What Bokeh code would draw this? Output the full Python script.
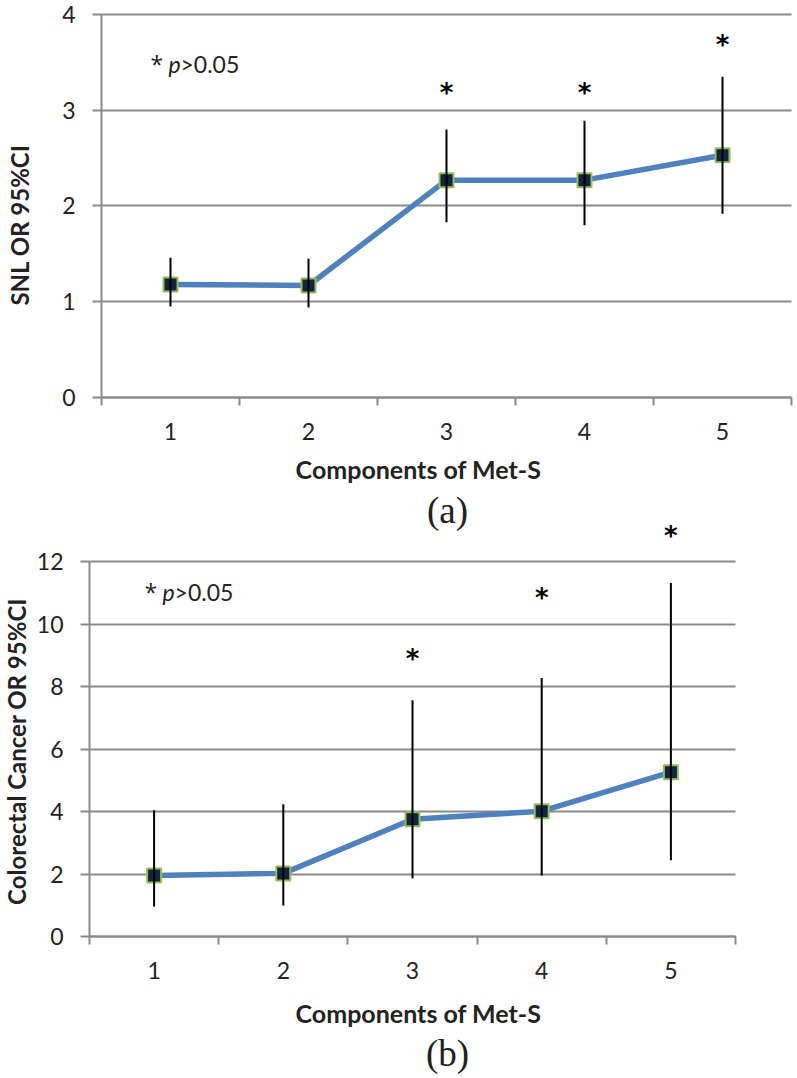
from bokeh.plotting import figure
from bokeh.layouts import column
from bokeh.models import ColumnDataSource, FixedTicker, Label, Range1d, Grid
from bokeh.core.properties import value
from bokeh.embed import file_html
from bokeh.resources import INLINE

# ---- data ----
components = [1, 2, 3, 4, 5]
tick_labels = ["1", "2", "3", "4", "5"]

snl_or = [1.18, 1.17, 2.27, 2.27, 2.53]
snl_lower = [0.95, 0.94, 1.83, 1.80, 1.92]
snl_upper = [1.46, 1.45, 2.80, 2.89, 3.35]
snl_star_x = [3, 4, 5]
snl_star_y = [3.23, 3.23, 3.73]
snl_yticks = [0, 1, 2, 3, 4]

crc_or = [1.95, 2.02, 3.75, 4.01, 5.26]
crc_lower = [0.96, 0.99, 1.86, 1.95, 2.44]
crc_upper = [4.04, 4.23, 7.56, 8.27, 11.31]
crc_star_x = [3, 4, 5]
crc_star_y = [9.04, 11.0, 12.98]
crc_yticks = [0, 2, 4, 6, 8, 10, 12]

GRAY = "#8a8a8a"
TXT = "#222222"
FONT = "Lato"
HAS_CROSS = "cross_bounds" in Grid.properties()


def make_chart(ylabel, ors, lo, hi, sx, sy, yticks, ymax, xr, yr, height,
               note_xy, ylab_xy, xlab_xy, tags, ylab_size):
    p = figure(width=797, height=height, min_border_left=0, min_border_right=0,
               min_border_top=0, min_border_bottom=0, title=None,
               x_range=Range1d(*xr), y_range=Range1d(*yr),
               output_backend="svg", toolbar_location=None)
    p.outline_line_color = None
    p.background_fill_color = "white"
    p.border_fill_color = "white"

    # x axis placed at y = 0: boundary ticks between categories, labels at centres
    xa = p.xaxis[0]
    xa.fixed_location = 0
    xa.bounds = (0.5, 5.5)
    xa.ticker = FixedTicker(ticks=components, minor_ticks=[0.5, 1.5, 2.5, 3.5, 4.5, 5.5])
    xa.major_label_overrides = {c: t for c, t in zip(components, tick_labels)}
    xa.major_tick_out = 0
    xa.major_tick_in = 0
    xa.minor_tick_out = 8
    xa.minor_tick_in = 0
    xa.minor_tick_line_color = GRAY
    xa.minor_tick_line_width = 2
    xa.axis_line_color = GRAY
    xa.axis_line_width = 2
    xa.major_label_standoff = 17
    xa.major_label_text_font = FONT
    xa.major_label_text_font_size = "23px"
    xa.major_label_text_color = TXT

    # y axis placed at the left edge of the first category
    ya = p.yaxis[0]
    ya.fixed_location = 0.5
    ya.bounds = (0, ymax)
    ya.ticker = FixedTicker(ticks=yticks, minor_ticks=[])
    ya.major_tick_out = 9
    ya.major_tick_in = 0
    ya.major_tick_line_color = GRAY
    ya.major_tick_line_width = 2
    ya.minor_tick_line_color = None
    ya.axis_line_color = GRAY
    ya.axis_line_width = 2
    ya.major_label_standoff = 17
    ya.major_label_text_font = FONT
    ya.major_label_text_font_size = "23px"
    ya.major_label_text_color = TXT

    p.xgrid.visible = False
    g = p.ygrid[0]
    g.ticker = FixedTicker(ticks=yticks)
    g.bounds = (0, ymax)
    if HAS_CROSS:
        g.cross_bounds = (0.5, 5.5)
    g.grid_line_color = GRAY
    g.grid_line_width = 2

    src = ColumnDataSource(dict(x=components, y=ors, lo=lo, hi=hi))
    p.line("x", "y", source=src, line_color="#4F81BD", line_width=5.5)
    p.scatter("x", "y", source=src, marker="square", size=14,
              fill_color="#10253F", line_color="#9BBB59", line_width=2)
    p.segment(x0="x", y0="lo", x1="x", y1="hi", source=src, line_color="black", line_width=2)

    p.text(x=sx, y=sy, text=["*"] * len(sx), text_font=value("DejaVu Sans"),
           text_font_style="bold", text_font_size="26px", text_align="center",
           text_baseline="middle", text_color="black", y_offset=5)

    # note: "* p>0.05"
    nx, ny = note_xy
    p.text(x=[nx], y=[ny], text=["*"], text_font=value("Open Sans"), text_font_size="23px",
           text_align="left", text_baseline="middle", text_color=TXT)
    p.text(x=[nx], y=[ny], text=["p"], text_font=value(FONT), text_font_size="23px",
           text_font_style="italic", text_align="left", text_baseline="middle",
           text_color=TXT, x_offset=18)
    p.text(x=[nx], y=[ny], text=[">0.05"], text_font=value(FONT), text_font_size="23px",
           text_align="left", text_baseline="middle", text_color=TXT, x_offset=30)

    p.add_layout(Label(x=ylab_xy[0], y=ylab_xy[1], text=ylabel, angle=90, angle_units="deg",
                       text_align="center", text_baseline="middle", text_font=FONT,
                       text_font_size=ylab_size, text_font_style="bold", text_color=TXT))
    p.add_layout(Label(x=xlab_xy[0], y=xlab_xy[1], text="Components of Met-S",
                       text_align="center", text_baseline="middle", text_font=FONT,
                       text_font_size="25px", text_font_style="bold", text_color=TXT))
    for tag, tx, ty in tags:
        p.add_layout(Label(x=tx, y=ty, text=tag,
                           text_align="center", text_baseline="middle",
                           text_font="Liberation Serif", text_font_size="37px", text_color=TXT))
    return p


p1 = make_chart("SNL OR 95%CI", snl_or, snl_lower, snl_upper, snl_star_x, snl_star_y,
                snl_yticks, 4, (-0.2319, 5.5435), (-0.9295, 4.1462), 486,
                (0.855, 3.478), (-0.094, 1.8016), (2.797, -0.745), [], "24px")
p2 = make_chart("Colorectal Cancer OR 95%CI", crc_or, crc_lower, crc_upper, crc_star_x, crc_star_y,
                crc_yticks, 12, (-0.1889, 5.9799), (-4.544, 14.40), 592,
                (0.926, 11.01), (-0.065, 5.92), (3.046, -2.45),
                [("(a)", 3.271, 13.632), ("(b)", 3.271, -3.744)], "24px")

layout = column(p1, p2, spacing=0)
open("out.html", "w").write(file_html(layout, INLINE))
